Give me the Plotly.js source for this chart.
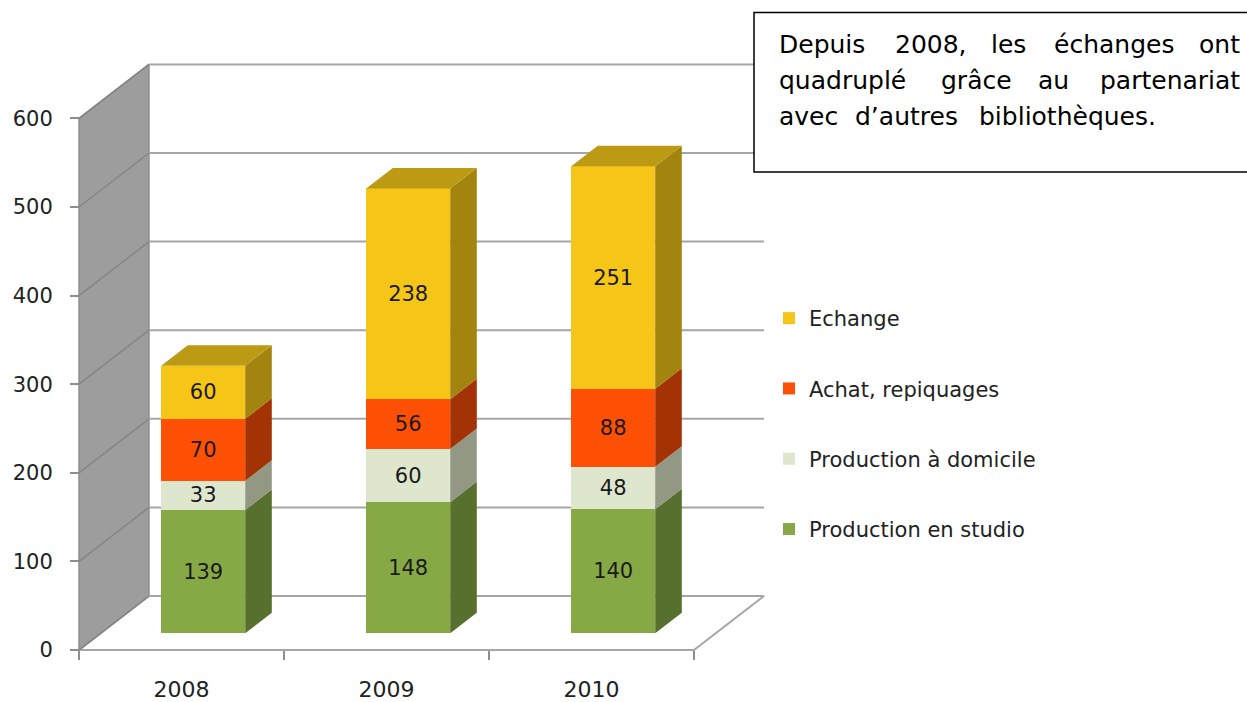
<!DOCTYPE html>
<html>
<head>
<meta charset="utf-8">
<script src="https://cdn.plot.ly/plotly-3.0.1.min.js"></script>
<style>
html,body{margin:0;padding:0;background:#ffffff;}
#chart{width:1247px;height:702px;}
</style>
</head>
<body>
<div id="chart"></div>
<script>
// ---------------- data ----------------
const years = ['2008', '2009', '2010'];
const seriesNames = ['Production en studio', 'Production à domicile', 'Achat, repiquages', 'Echange'];
const studio = [139, 148, 140];
const domicile = [33, 60, 48];
const achat = [70, 56, 88];
const echange = [60, 238, 251];
const yTickValues = [0, 100, 200, 300, 400, 500, 600];
const noteLines = [
  ['Depuis', '2008,', 'les', 'échanges', 'ont'],
  ['quadruplé', 'grâce', 'au', 'partenariat'],
  ['avec', 'd’autres', 'bibliothèques.']
];

// ---------------- styles ----------------
const FRONT = ['#86A946', '#DEE7CD', '#FD5005', '#F5C518'];
const SIDE  = ['#57702E', '#929884', '#A33204', '#A3840F'];
const TOP   = ['#6A873A', '#B4BAA4', '#C23E08', '#BD9A13'];
const FONT = 'DejaVu Sans';
const GRID = '#A6A6A6';

// ---------------- geometry (pixel mapping of the front plane) ----------------
const W = 1247, H = 702;
const PX0 = 181.5, SXP = 205, PY0 = 650, SYP = 0.886;
const DU = 70 / SXP, DV = 54 / SYP;        // full depth of the box, in axis units
const F1 = 0.31, F2 = 0.69;                 // bar depth fractions
const BW = 84 / SXP;                        // bar width in category units
const xr = [(0 - PX0) / SXP, (W - PX0) / SXP];
const yr = [(PY0 - H) / SYP, PY0 / SYP];
const BDU = (F2 - F1) * DU, BDV = (F2 - F1) * DV;
const ymax = yTickValues[yTickValues.length - 1];
const xL = -0.5, xR = years.length - 0.5;

const seriesValues = [studio, domicile, achat, echange];
const traces = [];

// floor
traces.push({type:'scatter', mode:'lines', x:[xL, xR, xR+DU, xL+DU, xL], y:[0,0,DV,DV,0],
  fill:'toself', fillcolor:'#FFFFFF', line:{color:GRID, width:2}, hoverinfo:'skip', showlegend:false});
// left wall
traces.push({type:'scatter', mode:'lines', x:[xL, xL, xL+DU, xL+DU, xL], y:[0, ymax, ymax+DV, DV, 0],
  fill:'toself', fillcolor:'#9D9D9D', line:{color:'#8E8E8E', width:1.5}, hoverinfo:'skip', showlegend:false});
// wall grid lines
(function(){
  const gx = [], gy = [];
  yTickValues.forEach(v => { gx.push(xL, xL+DU, null); gy.push(v, v+DV, null); });
  traces.push({type:'scatter', mode:'lines', x:gx, y:gy, line:{color:'#858585', width:1.5},
    hoverinfo:'skip', showlegend:false});
  const bx = [], by = [];
  yTickValues.forEach(v => { bx.push(xL+DU, xR+DU, null); by.push(v+DV, v+DV, null); });
  traces.push({type:'scatter', mode:'lines', x:bx, y:by, line:{color:GRID, width:2},
    hoverinfo:'skip', showlegend:false});
})();

// bars (front faces)
seriesValues.forEach((vals, s) => {
  traces.push({
    type:'bar', name:seriesNames[s], legendgroup:seriesNames[s],
    legendrank: 100 + (seriesValues.length - s),
    x: years.map((_, i) => i), y: vals, width: BW,
    xaxis:'x2', yaxis:'y2',
    marker:{color:FRONT[s], line:{width:0}},
    text: vals.map(String), textposition:'inside', insidetextanchor:'middle',
    constraintext:'none', textangle:0,
    textfont:{family:FONT, size:21, color:'#1A1A1A'},
    insidetextfont:{family:FONT, size:21, color:'#1A1A1A'},
    hoverinfo:'name+y'
  });
});

// side faces
const cum = years.map(() => 0);
seriesValues.forEach((vals, s) => {
  const sx = [], sy = [];
  vals.forEach((v, i) => {
    const b = cum[i], t = cum[i] + v;
    const xr0 = i + BW / 2;
    sx.push(xr0, xr0 + BDU, xr0 + BDU, xr0, xr0, null);
    sy.push(b, b + BDV, t + BDV, t, b, null);
    cum[i] = t;
  });
  traces.push({type:'scatter', mode:'lines', x:sx, y:sy, xaxis:'x2', yaxis:'y2',
    fill:'toself', fillcolor:SIDE[s], line:{width:0, color:SIDE[s]}, hoverinfo:'skip', showlegend:false});
});
// top faces (of the top-most series)
(function(){
  const tx = [], ty = [];
  cum.forEach((T, i) => {
    tx.push(i - BW/2, i + BW/2, i + BW/2 + BDU, i - BW/2 + BDU, i - BW/2, null);
    ty.push(T, T, T + BDV, T + BDV, T, null);
  });
  traces.push({type:'scatter', mode:'lines', x:tx, y:ty, xaxis:'x2', yaxis:'y2',
    fill:'toself', fillcolor:TOP[3], line:{width:0, color:TOP[3]}, hoverinfo:'skip', showlegend:false});
})();

// ---------------- note box ----------------
const annotations = [];
const lineY = [45, 80.5, 116.5];
const wordCenters = [
  [825.5, 931, 1008, 1113.5, 1220.5],
  [846.5, 976, 1053.5, 1166.5],
  [810, 907, 1067.5]
];
const justify = [true, true, false];
noteLines.forEach((words, li) => {
  words.forEach((w, wi) => {
    let x = wordCenters[li][wi], xanchor = 'center';
    if (wi === 0) { x = 777; xanchor = 'left'; }
    else if (justify[li] && wi === words.length - 1) { x = 1242; xanchor = 'right'; }
    annotations.push({xref:'paper', yref:'paper', x: x / W, y: 1 - lineY[li] / H,
      xanchor, yanchor:'middle', text: w, showarrow:false,
      font:{family:FONT, size:25, color:'#000000'}});
  });
});

const layout = {
  width: W, height: H, autosize:false,
  margin:{l:0, r:0, t:0, b:0, pad:0},
  paper_bgcolor:'#FFFFFF', plot_bgcolor:'#FFFFFF',
  barmode:'stack', bargap:0,
  showlegend:true,
  legend:{x: 769 / W, y: 1 - 298 / H, xanchor:'left', yanchor:'top',
    traceorder:'grouped', tracegroupgap:40, bgcolor:'rgba(0,0,0,0)',
    font:{family:FONT, size:21, color:'#222222'}},
  xaxis:{range:xr, anchor:'free', position:(H - PY0) / H, showgrid:false, zeroline:false, showline:false,
    tickmode:'array', tickvals: years.map((_, i) => i), ticktext: years, ticks:'',
    ticklabelstandoff: 24,
    minor:{tickmode:'array', tickvals: years.map((_, i) => i - 0.5).concat([xR]), ticks:'outside',
      ticklen:9, tickwidth:2, tickcolor:'#8E8E8E', showgrid:false},
    tickfont:{family:FONT, size:22, color:'#222222'}, fixedrange:true},
  yaxis:{range:yr, anchor:'free', position:(PX0 - 0.5 * SXP) / W, side:'left',
    showgrid:false, zeroline:false, showline:false,
    tickmode:'array', tickvals:yTickValues, ticks:'outside', ticklen:9, tickwidth:2, tickcolor:'#8E8E8E',
    ticklabelstandoff: 13,
    tickfont:{family:FONT, size:21, color:'#222222'}, fixedrange:true},
  xaxis2:{range:[xr[0] - F1 * DU, xr[1] - F1 * DU], overlaying:'x', anchor:'y2', visible:false, fixedrange:true},
  yaxis2:{range:[yr[0] - F1 * DV, yr[1] - F1 * DV], overlaying:'y', anchor:'x2', visible:false, fixedrange:true},
  shapes:[{type:'rect', xref:'paper', yref:'paper', x0: 754 / W, x1: 1260 / W, y0: 1 - 172 / H, y1: 1 - 12.5 / H,
    line:{color:'#000000', width:1.5}, fillcolor:'#FFFFFF', layer:'above'}],
  annotations
};

Plotly.newPlot('chart', traces, layout, {displayModeBar:false, staticPlot:true});
</script>
</body>
</html>
